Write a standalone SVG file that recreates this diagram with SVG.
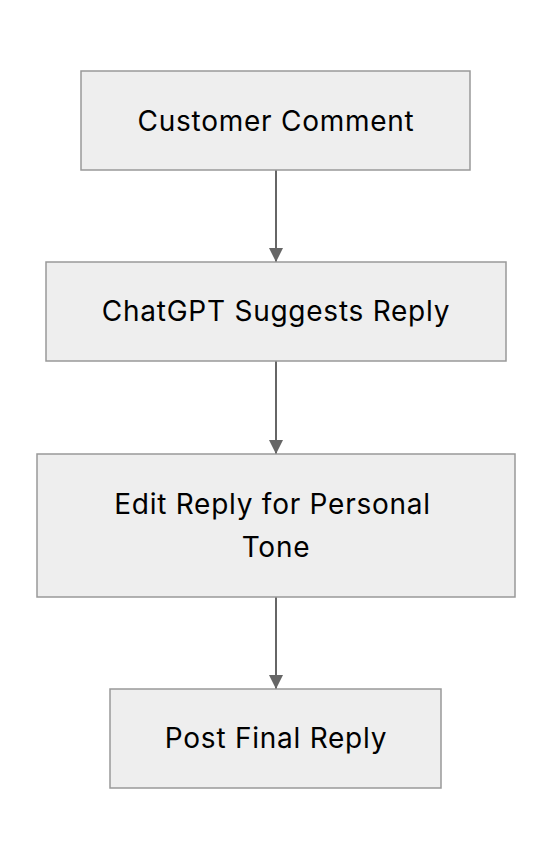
<svg xmlns="http://www.w3.org/2000/svg" width="552" height="860" viewBox="0 0 552 860">
<style>
.node rect{fill:#eeeeee;stroke:#999999;stroke-width:1.5}
.node text{font-family:Inter,"Noto Sans",sans-serif;font-size:28px;letter-spacing:0.75px;fill:#000000;text-anchor:middle}
.edge{stroke:#666666;stroke-width:2;fill:none}
</style>
<defs>
<marker id="arrow" markerUnits="userSpaceOnUse" markerWidth="14" markerHeight="14" refX="14" refY="7" orient="auto">
<path d="M0,0 L14,7 L0,14 Z" fill="#666666"/>
</marker>
</defs>
<rect width="552" height="860" fill="#ffffff"/>
<g id="connectors">
<path class="edge" d="M276,170 L276,262" marker-end="url(#arrow)"/>
<path class="edge" d="M276,361 L276,454" marker-end="url(#arrow)"/>
<path class="edge" d="M276,597 L276,689" marker-end="url(#arrow)"/>
</g>
<g id="node-customer-comment" class="node">
<rect x="81" y="71" width="389" height="99"/>
<text x="276" y="131">Customer Comment</text>
</g>
<g id="node-chatgpt-suggests" class="node">
<rect x="46" y="262" width="460" height="99"/>
<text x="276" y="321">ChatGPT Suggests Reply</text>
</g>
<g id="node-edit-reply" class="node">
<rect x="37" y="454" width="478" height="143"/>
<text x="272.5" y="514">Edit Reply for Personal</text>
<text x="276" y="557">Tone</text>
</g>
<g id="node-post-final" class="node">
<rect x="110" y="689" width="331" height="99"/>
<text x="276" y="748">Post Final Reply</text>
</g>
</svg>
